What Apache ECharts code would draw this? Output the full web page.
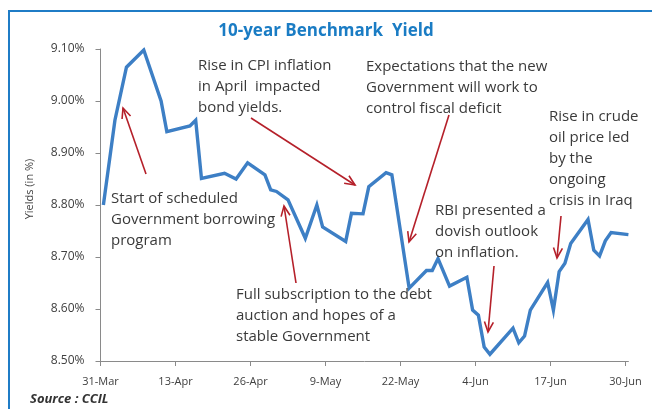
<!DOCTYPE html>
<html>
<head>
<meta charset="utf-8">
<script src="https://cdn.jsdelivr.net/npm/echarts@6/dist/echarts.min.js"></script>
<style>
  html, body { margin: 0; padding: 0; background: #fff; }
  #chart { width: 652px; height: 409px; }
</style>
</head>
<body>
<div id="chart"></div>
<script>
// days since 31-Mar for each trading day plotted
const days = [0, 2, 4, 7, 10, 11, 15, 16, 17, 21, 23, 25, 28, 29, 30, 32, 35, 37, 38, 42,
  43, 45, 46, 49, 50, 53, 56, 57, 58, 60, 63, 64, 65, 66, 67, 71, 72, 73, 74, 77,
  78, 79, 80, 81, 84, 85, 86, 87, 88, 91];
const yields = [8.800, 8.963, 9.065, 9.098, 9.000, 8.941, 8.952, 8.963, 8.851, 8.861,
  8.850, 8.881, 8.858, 8.829, 8.826, 8.810, 8.736, 8.800, 8.758, 8.730,
  8.784, 8.783, 8.835, 8.862, 8.858, 8.640, 8.674, 8.674, 8.697, 8.644,
  8.661, 8.598, 8.588, 8.527, 8.513, 8.563, 8.535, 8.548, 8.598, 8.651,
  8.598, 8.672, 8.688, 8.726, 8.772, 8.713, 8.702, 8.731, 8.747, 8.743];
const tickDays = [0, 13, 26, 39, 52, 65, 78, 91];
const tickLabels = ['31-Mar', '13-Apr', '26-Apr', '9-May', '22-May', '4-Jun', '17-Jun', '30-Jun'];

const notes = [
  { x: 111, y: 200, lines: ['Start of scheduled', 'Government borrowing', 'program'] },
  { x: 198, y: 67, lines: ['Rise in CPI inflation', 'in April  impacted', 'bond yields.'] },
  { x: 366, y: 68, lines: ['Expectations that the new', 'Government will work to', 'control fiscal deficit'] },
  { x: 549, y: 118, lines: ['Rise in crude', 'oil price led', 'by the', 'ongoing', 'crisis in Iraq'] },
  { x: 435, y: 212, lines: ['RBI presented a', 'dovish outlook', 'on inflation.'] },
  { x: 236, y: 296, lines: ['Full subscription to the debt', 'auction and hopes of a', 'stable Government'] }
];
const arrows = [
  [146, 174, 123, 108],
  [251, 118, 355, 185],
  [449, 115, 409, 242],
  [296, 283, 284, 206],
  [494, 266, 488, 332],
  [561, 216, 557, 258]
];

const FONT = 'Open Sans';
const ARROW_COLOR = '#b5202a';

function arrowShapes(a) {
  const [x1, y1, x2, y2] = a;
  const ang = Math.atan2(y2 - y1, x2 - x1);
  const L = 11, s = 0.42;
  return [
    { type: 'line', shape: { x1, y1, x2, y2 }, style: { stroke: ARROW_COLOR, lineWidth: 1.6 }, z: 50 },
    {
      type: 'polyline',
      shape: { points: [
        [x2 - L * Math.cos(ang - s), y2 - L * Math.sin(ang - s)],
        [x2, y2],
        [x2 - L * Math.cos(ang + s), y2 - L * Math.sin(ang + s)]
      ] },
      style: { stroke: ARROW_COLOR, lineWidth: 1.6, fill: null },
      z: 50
    }
  ];
}

const graphics = [
  { type: 'rect', shape: { x: 9, y: 11, width: 700, height: 450 }, style: { fill: null, stroke: '#1f7cc6', lineWidth: 2 }, z: 1 },
  { type: 'text', x: 30, y: 399, style: { text: 'Source : CCIL', font: 'italic bold 13px ' + FONT, fill: '#333', verticalAlign: 'middle' } },
  { type: 'text', x: 30, y: 189, rotation: Math.PI / 2, style: { text: 'Yields (in %)', font: '11px ' + FONT, fill: '#404040', align: 'center', verticalAlign: 'middle' } }
];
notes.forEach(n => {
  graphics.push({
    type: 'text', x: n.x, y: n.y - 11.5, z: 40,
    style: { text: n.lines.join('\n'), font: '15px ' + FONT, lineHeight: 21, fill: '#3a3a3a', verticalAlign: 'top' }
  });
});
arrows.forEach(a => graphics.push(...arrowShapes(a)));

const chart = echarts.init(document.getElementById('chart'));
chart.setOption({
  animation: false,
  textStyle: { fontFamily: FONT },
  title: {
    text: '10-year Benchmark  Yield',
    left: 'center',
    top: 18,
    textStyle: { color: '#1a7cc4', fontSize: 17, fontWeight: 'bold', fontFamily: FONT }
  },
  grid: { left: 100.5, right: 23.6, top: 49, bottom: 48 },
  xAxis: {
    type: 'value',
    min: 0,
    max: 91.5,
    splitLine: { show: false },
    axisLine: { lineStyle: { color: '#8a8a8a', width: 1 } },
    axisTick: { show: true, length: 5, customValues: tickDays, lineStyle: { color: '#8a8a8a' } },
    axisLabel: {
      customValues: tickDays,
      margin: 15,
      fontSize: 11,
      color: '#404040',
      formatter: v => tickLabels[tickDays.indexOf(Math.round(v))] || ''
    }
  },
  yAxis: {
    type: 'value',
    min: 8.5,
    max: 9.1,
    interval: 0.1,
    splitLine: { show: false },
    axisLine: { show: true, lineStyle: { color: '#8a8a8a', width: 1 } },
    axisTick: { show: true, length: 5, lineStyle: { color: '#8a8a8a' } },
    axisLabel: { fontSize: 12, color: '#404040', margin: 16, formatter: v => v.toFixed(2) + '%' }
  },
  series: [{
    type: 'line',
    data: days.map((d, i) => [d + 0.5, yields[i]]),
    showSymbol: false,
    lineStyle: { color: '#3d7fc5', width: 3.4, join: 'miter' },
    z: 10
  }],
  graphic: graphics
});
</script>
</body>
</html>
